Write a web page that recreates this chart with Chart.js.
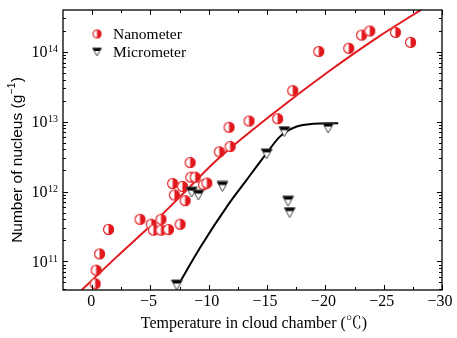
<!DOCTYPE html>
<html>
<head>
<meta charset="utf-8">
<script src="https://cdn.jsdelivr.net/npm/chart.js@4/dist/chart.umd.min.js"></script>
<style>
    html, body { margin: 0; padding: 0; background: #fff; }
    canvas { display: block; }
</style>
</head>
<body>
<canvas id="chart" width="457" height="338"></canvas>
<script>
'use strict';

// Nanometer particles: temperature (°C) and nucleus count (g^-1)
const nanoTemp = [-0.26, -0.34, -0.63, -1.4, -4.1, -5.06, -5.25, -5.9, -5.9, -6.54, -7.54,
    -6.9, -7.05, -7.74, -7.97, -8.46, -8.83, -8.4, -9.54, -9.83, -10.9, -11.83, -11.74,
    -13.45, -15.9, -17.2, -19.43, -22.0, -23.1, -23.8, -26.0, -27.3];
const nanoCount = [4.8e10, 7.5e10, 1.28e11, 2.87e11, 4.0e11, 3.4e11, 2.8e11, 4.0e11, 2.8e11, 2.85e11, 3.4e11,
    1.3e12, 8.9e11, 1.18e12, 7.4e11, 1.6e12, 1.6e12, 2.6e12, 1.25e12, 1.32e12, 3.7e12, 4.4e12, 8.3e12,
    1.02e13, 1.1e13, 2.77e13, 1.01e14, 1.12e14, 1.73e14, 1.98e14, 1.89e14, 1.36e14];

// Micrometer particles
const microTemp = [-7.26, -8.54, -9.1, -11.17, -14.97, -16.48, -16.8, -16.94, -20.24];
const microCount = [4.6e10, 9.8e11, 8.9e11, 1.18e12, 3.46e12, 7.2e12, 7.3e11, 5.0e11, 8.1e12];

// Fitted red line
const nanoFitTemp = [0.9, -2.12, -5.25, -8.11, -10.69, -15.94, -20.22, -24.51, -28.22];
const nanoFitCount = [3.9e10, 1.17e11, 3.55e11, 1.05e12, 2.82e12, 1.48e13, 5.13e13, 1.62e14, 3.98e14];

// Fitted black curve
const microFitTemp = [-7.25, -9.25, -11.7, -13.25, -14.97, -16.1, -17.54, -18.97, -21.1];
const microFitCount = [4.2e10, 1.57e11, 6.6e11, 1.47e12, 3.54e12, 6.1e12, 8.5e12, 9.3e12, 9.5e12];

// Axis ticks
const xTickValues = [0, -5, -10, -15, -20, -25, -30];
const xTickLabels = ['0', '\u22125', '\u221210', '\u221215', '\u221220', '\u221225', '\u221230'];
const xMinorValues = [-2.5, -7.5, -12.5, -17.5, -22.5, -27.5];
const yTickExps = [11, 12, 13, 14];

const xTitle = 'Temperature in cloud chamber (\u2103)';
const yTitle = ['Number of nucleus (g', '\u22121', ')'];

const RED = 'rgb(225,25,30)';
const SERIF = "'Liberation Serif', 'Times New Roman', 'Noto Serif CJK SC', serif";
const SANS = "'Liberation Sans', Arial, sans-serif";

function halfCircle(r, color) {
    const c = document.createElement('canvas');
    const s = Math.ceil(r * 2 + 2);
    c.width = c.height = s;
    const g = c.getContext('2d');
    const cx = s / 2, cy = s / 2;
    g.fillStyle = '#fff';
    g.beginPath();
    g.arc(cx, cy, r, 0, Math.PI * 2);
    g.fill();
    g.fillStyle = color;
    g.beginPath();
    g.arc(cx, cy, r, -Math.PI / 2, Math.PI / 2);
    g.closePath();
    g.fill();
    g.strokeStyle = color;
    g.lineWidth = 1.1;
    g.beginPath();
    g.arc(cx, cy, r - 0.55, 0, Math.PI * 2);
    g.stroke();
    return c;
}

function halfTriangle(w, h, band) {
    const c = document.createElement('canvas');
    c.width = Math.ceil(w + 2);
    c.height = Math.ceil(h + 2);
    const g = c.getContext('2d');
    const x0 = 1, y0 = 1;
    const tri = () => {
        g.beginPath();
        g.moveTo(x0, y0);
        g.lineTo(x0 + w, y0);
        g.lineTo(x0 + w / 2, y0 + h);
        g.closePath();
    };
    tri();
    g.fillStyle = '#fff';
    g.fill();
    g.save();
    tri();
    g.clip();
    g.fillStyle = '#000';
    g.fillRect(0, 0, c.width, y0 + band);
    g.restore();
    tri();
    g.strokeStyle = '#444';
    g.lineWidth = 1;
    g.stroke();
    return c;
}

const circleMark = halfCircle(5.5, RED);
const triMark = halfTriangle(11, 10, 3.5);
const circleLegend = halfCircle(4.5, RED);
const triLegend = halfTriangle(9, 8, 3);

const pts = (xs, ys) => xs.map((x, i) => ({x, y: ys[i]}));

const framePlugin = {
    id: 'frame',
    afterDraw(chart) {
        const {ctx, chartArea: a, scales: {x, y}} = chart;
        ctx.save();
        ctx.strokeStyle = '#000';
        ctx.lineWidth = 1.3;
        ctx.strokeRect(a.left, a.top, a.right - a.left, a.bottom - a.top);

        ctx.lineWidth = 1;
        ctx.beginPath();
        const xTick = (v, len) => {
            const px = Math.round(x.getPixelForValue(v)) + 0.5;
            ctx.moveTo(px, a.bottom); ctx.lineTo(px, a.bottom - len);
            ctx.moveTo(px, a.top); ctx.lineTo(px, a.top + len);
        };
        const yTick = (v, len) => {
            const py = Math.round(y.getPixelForValue(v)) + 0.5;
            ctx.moveTo(a.left, py); ctx.lineTo(a.left + len, py);
            ctx.moveTo(a.right, py); ctx.lineTo(a.right - len, py);
        };
        xTickValues.forEach(v => xTick(v, 5));
        xMinorValues.forEach(v => xTick(v, 3));
        yTickExps.forEach(e => yTick(10 ** e, 5));
        for (let e = 10; e <= 14; e++) {
            for (let m = 2; m <= 9; m++) {
                const v = m * 10 ** e;
                if (v > y.min && v < y.max) {
                    yTick(v, 3);
                }
            }
        }
        ctx.stroke();

        // x tick labels
        ctx.fillStyle = '#000';
        ctx.font = `16px ${SERIF}`;
        ctx.textAlign = 'center';
        ctx.textBaseline = 'middle';
        xTickValues.forEach((v, i) => {
            const off = v === 0 ? -1 : -2;
            ctx.fillText(xTickLabels[i], x.getPixelForValue(v) + off, 302);
        });

        // y tick labels 10^n
        ctx.textBaseline = 'alphabetic';
        ctx.textAlign = 'right';
        yTickExps.forEach(e => {
            const py = y.getPixelForValue(10 ** e);
            ctx.font = `10px ${SERIF}`;
            const sup = String(e);
            ctx.fillText(sup, a.left - 5, py + 0.5);
            const sw = ctx.measureText(sup).width;
            ctx.font = `16px ${SERIF}`;
            ctx.fillText('10', a.left - 5 - sw - 0.5, py + 5.5);
        });

        // x title
        ctx.font = `16px ${SERIF}`;
        ctx.textAlign = 'center';
        ctx.fillText(xTitle, (a.left + a.right) / 2 + 1.5, 328);

        // y title (rotated)
        ctx.save();
        ctx.translate(22, 160);
        ctx.rotate(-Math.PI / 2);
        ctx.textAlign = 'left';
        ctx.font = `15.5px ${SANS}`;
        const w0 = ctx.measureText(yTitle[0]).width;
        const w2 = ctx.measureText(yTitle[2]).width;
        ctx.font = `10px ${SANS}`;
        const w1 = ctx.measureText(yTitle[1]).width;
        let cx = -(w0 + w1 + w2 + 1) / 2;
        ctx.font = `15.5px ${SANS}`;
        ctx.fillText(yTitle[0], cx, 0);
        cx += w0;
        ctx.font = `10px ${SANS}`;
        ctx.fillText(yTitle[1], cx + 0.5, -7);
        cx += w1 + 1;
        ctx.font = `15.5px ${SANS}`;
        ctx.fillText(yTitle[2], cx, 0);
        ctx.restore();

        // legend inside the plot
        const legend = [
            [circleLegend, chart.data.datasets[0].label, 34],
            [triLegend, chart.data.datasets[1].label, 52],
        ];
        ctx.font = `15.5px ${SERIF}`;
        ctx.textAlign = 'left';
        ctx.textBaseline = 'middle';
        legend.forEach(([img, label, ly]) => {
            ctx.drawImage(img, 97 - img.width / 2, ly - img.height / 2);
            ctx.fillText(label, 113, ly + 0.5);
        });
        ctx.restore();
    }
};

const chart = new Chart(document.getElementById('chart').getContext('2d'), {
    type: 'scatter',
    data: {
        datasets: [{
            label: 'Nanometer',
            data: pts(nanoTemp, nanoCount),
            pointStyle: circleMark,
            pointRadius: 5,
            order: 1,
        }, {
            label: 'Micrometer',
            data: pts(microTemp, microCount),
            pointStyle: triMark,
            pointRadius: 5,
            order: 0,
        }, {
            label: 'Nanometer fit',
            data: pts(nanoFitTemp, nanoFitCount),
            showLine: true,
            borderColor: RED,
            borderWidth: 2,
            pointRadius: 0,
            cubicInterpolationMode: 'monotone',
            order: 3,
        }, {
            label: 'Micrometer fit',
            data: pts(microFitTemp, microFitCount),
            showLine: true,
            borderColor: '#000',
            borderWidth: 2,
            pointRadius: 0,
            cubicInterpolationMode: 'monotone',
            order: 2,
        }]
    },
    options: {
        responsive: false,
        animation: false,
        devicePixelRatio: 1,
        layout: {padding: {top: 10, right: 15, bottom: 0, left: 0}},
        plugins: {
            legend: {display: false},
            tooltip: {enabled: false},
        },
        scales: {
            x: {
                type: 'linear',
                min: -30,
                max: 2.5,
                reverse: true,
                ticks: {display: false},
                grid: {display: false},
                border: {display: false},
                afterFit(s) { s.height = 48; },
            },
            y: {
                type: 'logarithmic',
                min: 3.9e10,
                max: 3.95e14,
                ticks: {display: false},
                grid: {display: false},
                border: {display: false},
                afterFit(s) { s.width = 63; },
            }
        }
    },
    plugins: [framePlugin]
});
</script>
</body>
</html>
